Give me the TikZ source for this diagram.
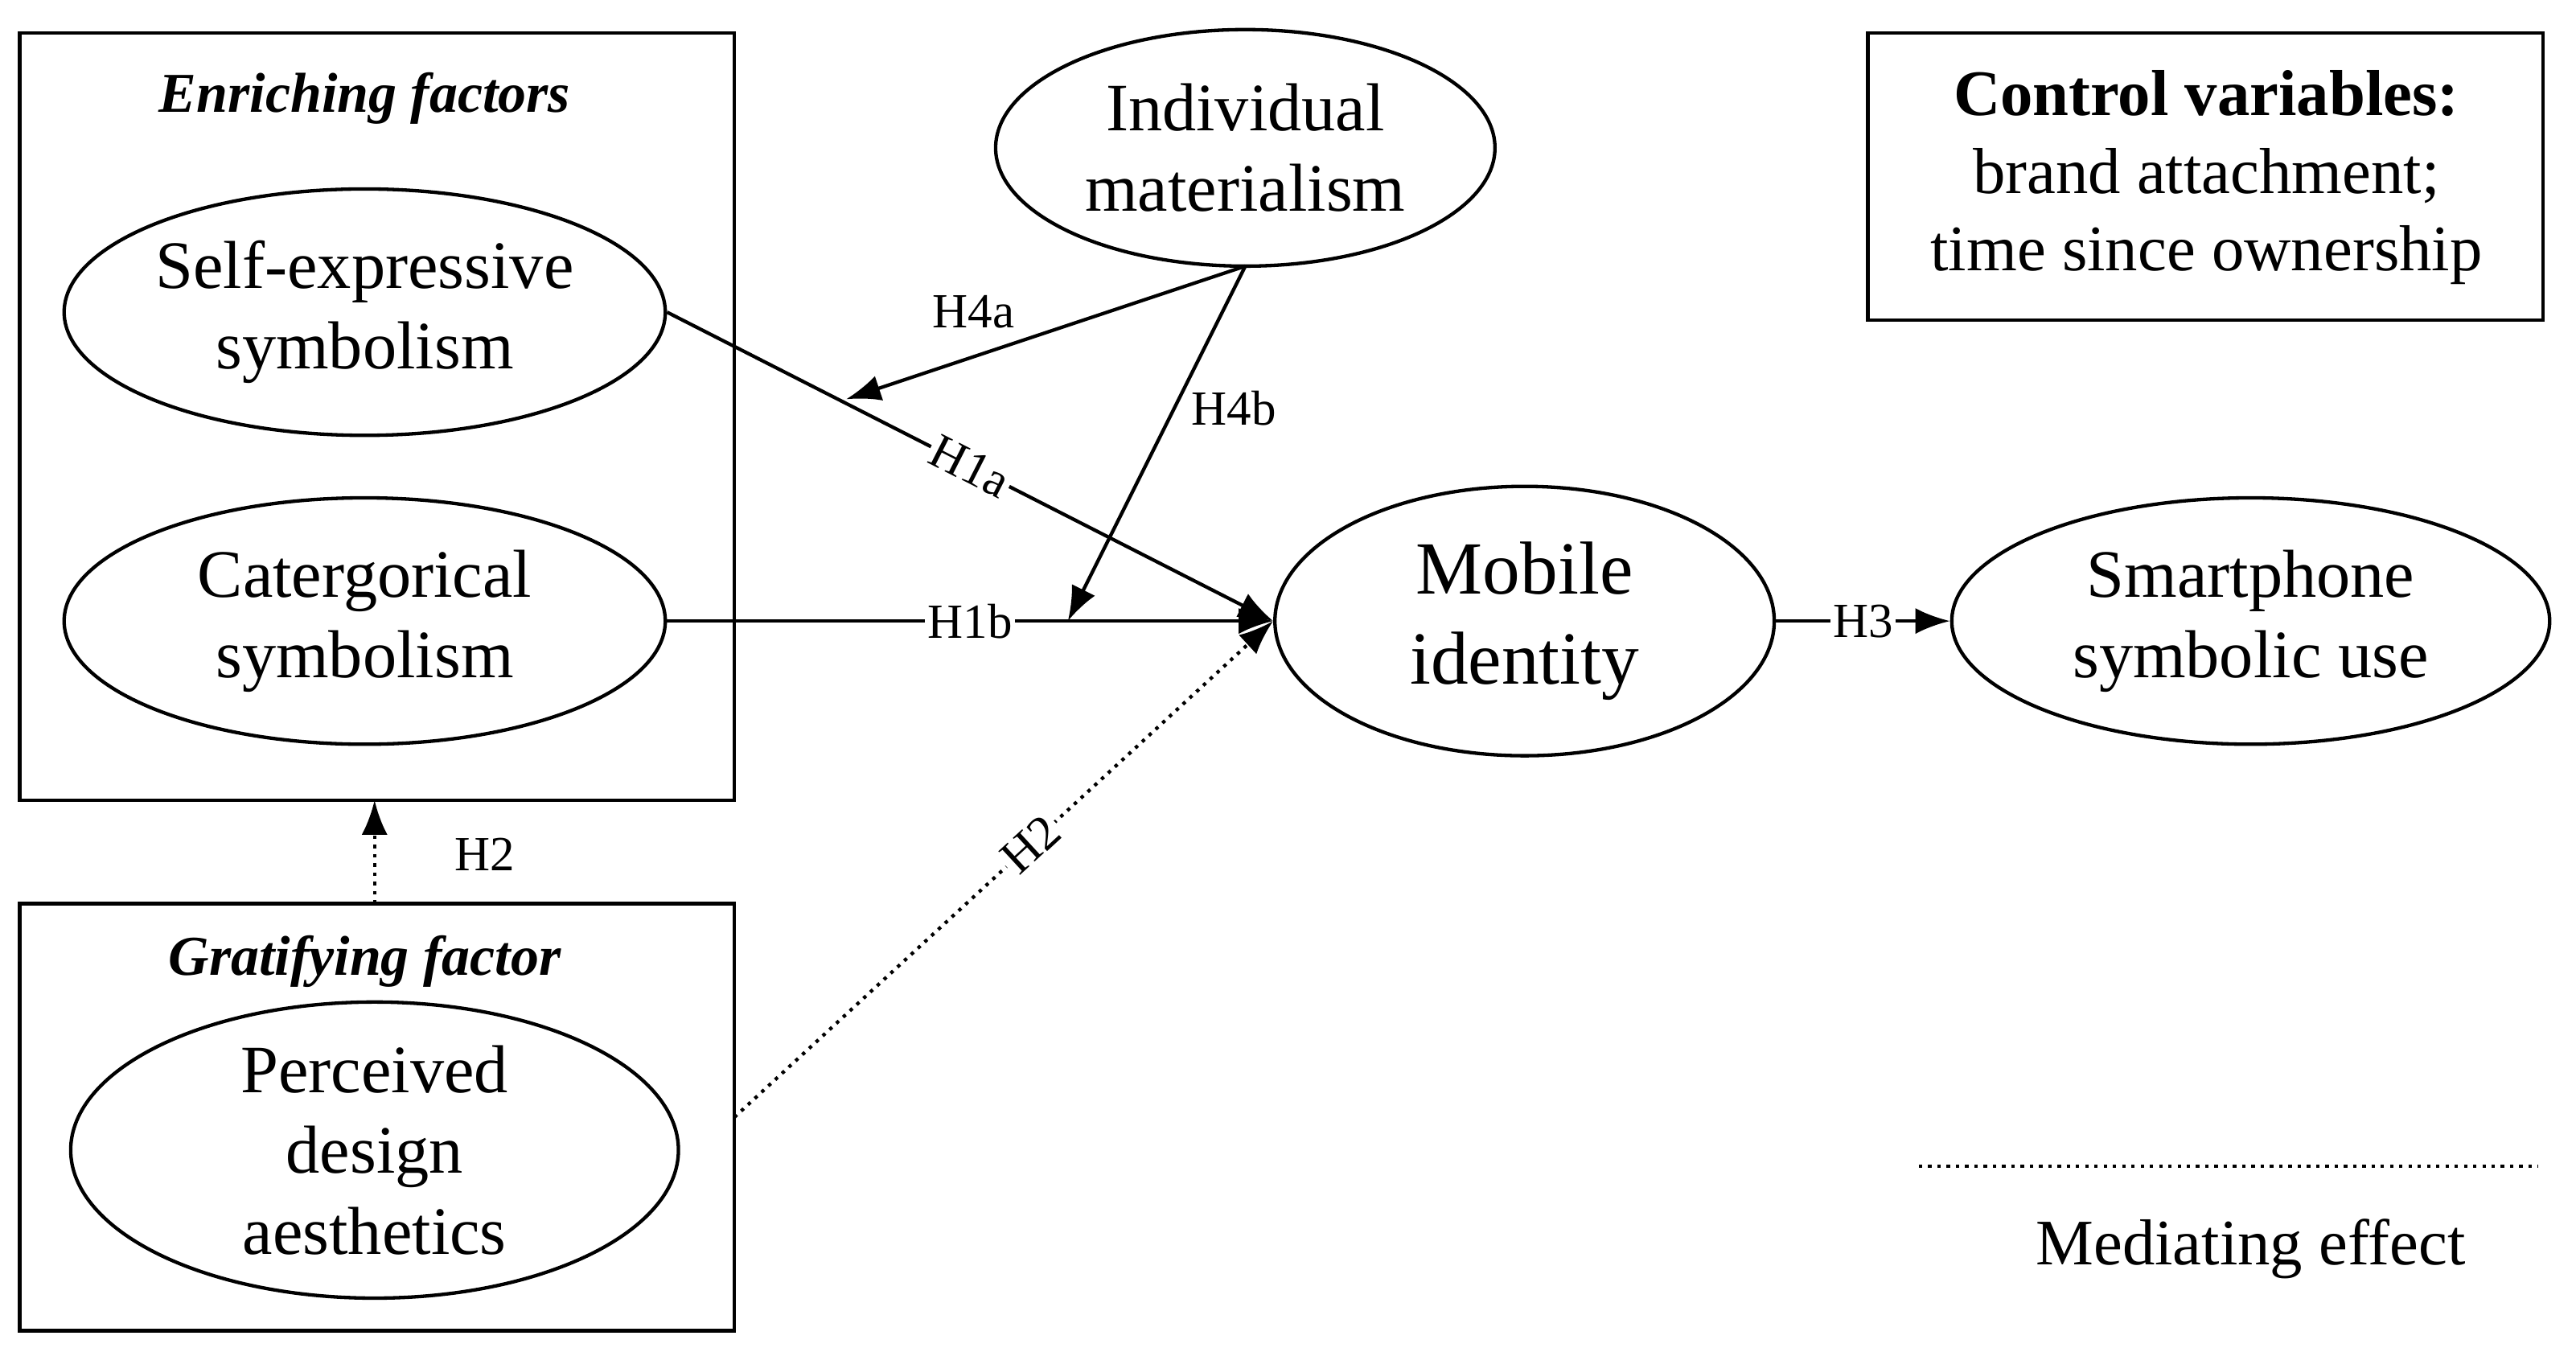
\documentclass[tikz,border=0pt]{standalone}
\usepackage{fontspec}
\setmainfont{Liberation Serif}
\usetikzlibrary{arrows.meta,shapes.geometric}
\begin{document}
\begin{tikzpicture}[x=0.02cm,y=-0.02cm,
  ell/.style={draw,line width=1.2pt,ellipse,inner sep=0pt,align=center,font=\fontsize{23.5}{28}\selectfont},
  box/.style={draw,line width=1.2pt},
  arr/.style={line width=1.2pt,-{Latex[length=12pt,width=9pt]}},
  dot/.style={arr,dotted},
  lab/.style={fill=white,inner sep=1pt,font=\fontsize{17}{20}\selectfont},
  ttl/.style={font=\fontsize{19.5}{23}\selectfont\bfseries\itshape}]
\useasboundingbox (0,0) rectangle (1568,820);
\draw[box] (12,20) rectangle (447,487);
\node[ttl] (t1) at (222,60) {Enriching factors};
\draw[box] (12,550) rectangle (447,810);
\node[ttl] (t2) at (222,585) {Gratifying factor};
\draw[box] (1137,20) rectangle (1548,195);
\node[align=center,font=\fontsize{22.5}{27}\selectfont] (cv) at (1343,108) {\textbf{Control variables:}\\brand attachment;\\time since ownership};
\node[ell,minimum width=7.32cm,minimum height=3cm] (se) at (222,190) {Self-expressive\\symbolism};
\node[ell,minimum width=7.32cm,minimum height=3cm] (cs) at (222,378) {Catergorical\\symbolism};
\node[ell,minimum width=7.4cm,minimum height=3.2cm] (pd) at (228,700) {Perceived\\design\\aesthetics};
\node[ell,minimum width=6.08cm,minimum height=2.88cm] (im) at (758,90) {Individual\\materialism};
\node[ell,minimum width=6.08cm,minimum height=3.28cm,font=\fontsize{26}{31}\selectfont] (mi) at (928,378) {Mobile\\identity};
\node[ell,minimum width=7.28cm,minimum height=3cm] (sp) at (1370,378) {Smartphone\\symbolic use};
\coordinate (b1top) at (228,487);
\coordinate (b2top) at (228,550);
\coordinate (h4a) at (515,243);
\coordinate (h4b) at (650,378);
\coordinate (imb) at (758,162);
\draw[arr] (se.east) -- node[lab,pos=0.5,sloped]{H1a} (mi.west);
\draw[arr] (cs.east) -- node[lab,pos=0.5]{H1b} (mi.west);
\draw[dot] (447,680) -- node[lab,pos=0.55,sloped]{H2} (mi.west);
\draw[dot] (b2top) -- (b1top);
\node[font=\fontsize{17}{20}\selectfont] (h2l) at (295,520) {H2};
\draw[arr] (mi.east) -- node[lab]{H3} (sp.west);
\draw[arr] (imb) -- node[font=\fontsize{17}{20}\selectfont,pos=0.55,above left=0pt] {H4a} (h4a);
\draw[arr] (imb) -- node[font=\fontsize{17}{20}\selectfont,pos=0.4,right=2pt] {H4b} (h4b);
\draw[line width=1.2pt,dotted] (1168,710) -- (1545,710);
\node[font=\fontsize{22.5}{27}\selectfont] (me) at (1370,760) {Mediating effect};
\end{tikzpicture}
\end{document}
